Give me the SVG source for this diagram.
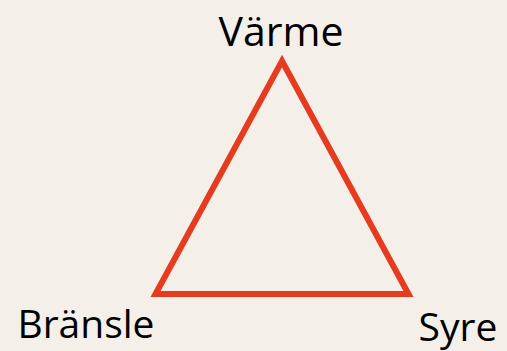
<svg xmlns="http://www.w3.org/2000/svg" width="507" height="351" viewBox="0 0 507 351">
<style>
.lbl{font-family:"Open Sans","Noto Sans",sans-serif;fill:#000;}
.tri{fill:none;stroke:#E63B1F;stroke-width:6;stroke-linejoin:miter;stroke-miterlimit:10;}
</style>
<rect width="507" height="351" fill="#F4EFE9"/>
<g id="connectors">
<polygon class="tri" points="282,61 408.5,294 155.5,294"/>
</g>
<g id="varme"><text class="lbl" x="281" y="46" font-size="41" text-anchor="middle">Värme</text></g>
<g id="bransle"><text class="lbl" x="86" y="338" font-size="39" text-anchor="middle">Bränsle</text></g>
<g id="syre"><text class="lbl" x="458" y="341" font-size="39" text-anchor="middle">Syre</text></g>
</svg>
